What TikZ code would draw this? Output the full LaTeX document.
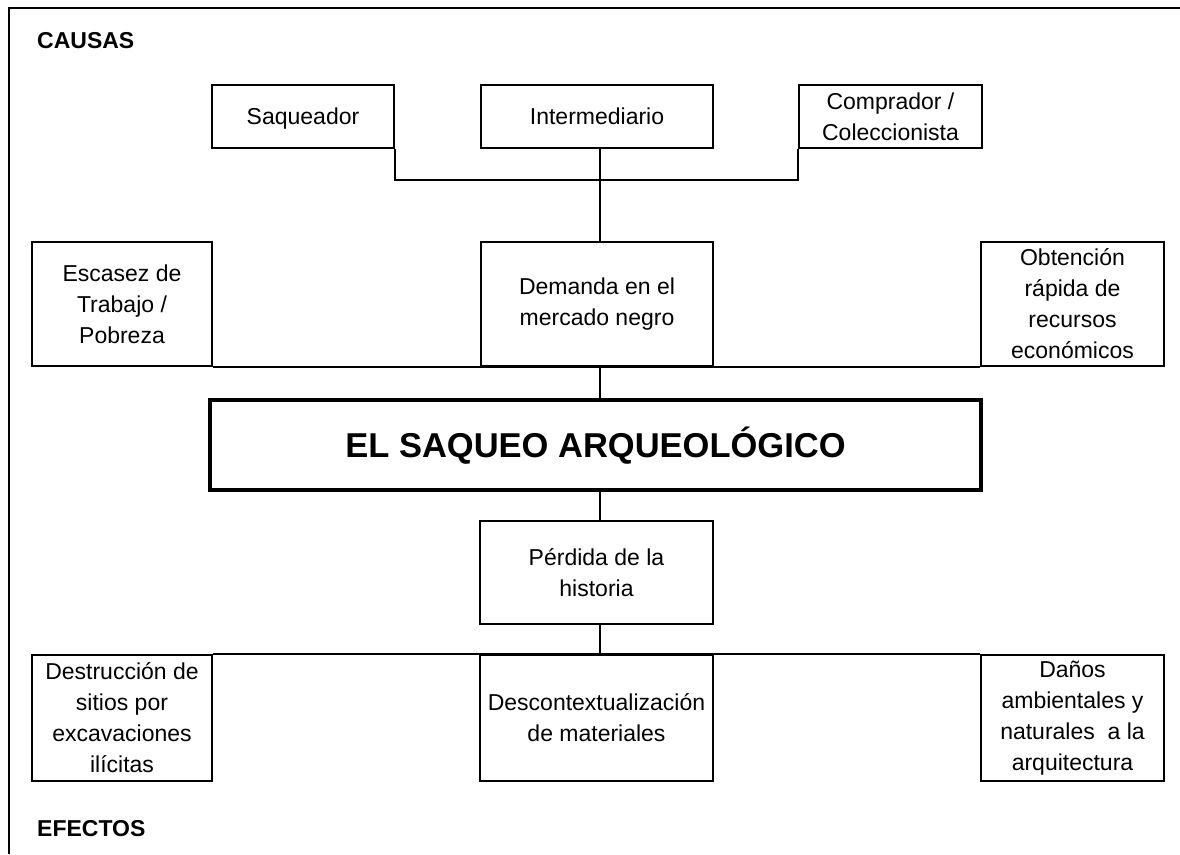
\documentclass[tikz,border=0pt]{standalone}
\usepackage{fontspec}
\setmainfont{Liberation Sans}
\begin{document}
\begin{tikzpicture}[x=1pt,y=-1pt,
  box/.style={draw, line width=1.6pt, inner sep=0pt, align=center,
              font=\fontsize{23}{31}\selectfont},
  oneline/.style={text height=16.5pt, text depth=0pt},
  mainbox/.style={draw, line width=3.5pt, inner sep=0pt, align=center,
              text height=24.7pt, text depth=0pt,
              font=\bfseries\fontsize{34.5}{40}\selectfont},
  conn/.style={line width=1.6pt},
  frameline/.style={line width=2pt},
  heading/.style={anchor=base west, inner sep=0pt, font=\bfseries\fontsize{23}{28}\selectfont}]
\useasboundingbox (0,0) rectangle (1180,854);

% frame (top and left edges)
\coordinate (fbl) at (9,854);
\coordinate (ftl) at (9,8);
\coordinate (ftr) at (1180,8);
\draw[frameline] (fbl) -- (ftl) -- (ftr);

% headings
\node[heading] (causas) at (37,48) {CAUSAS};
\node[heading] (efectos) at (37,836) {EFECTOS};

% row 1
\node[box, oneline, minimum width=182pt, minimum height=63pt] (saq) at (303,116.5) {Saqueador};
\node[box, oneline, minimum width=232pt, minimum height=63pt] (inter) at (597,116.5) {Intermediario};
\node[box, minimum width=183pt, minimum height=63pt] (comp) at (890.5,116.5) {Comprador /\\Coleccionista};

% row 2
\node[box, minimum width=180pt, minimum height=124pt] (esc) at (122,304) {Escasez de\\Trabajo /\\Pobreza};
\node[box, minimum width=232pt, minimum height=124pt] (dem) at (597,304) {Demanda en el\\mercado negro};
\node[box, minimum width=183pt, minimum height=124pt] (obt) at (1072.5,304) {Obtención\\rápida de\\recursos\\económicos};

% main box
\node[mainbox, minimum width=771pt, minimum height=90pt] (main) at (595.5,445) {EL SAQUEO ARQUEOLÓGICO};

% effects
\node[box, minimum width=233pt, minimum height=103pt] (per) at (596.5,572.5) {Pérdida de la\\historia};
\node[box, minimum width=180pt, minimum height=126pt] (des) at (122,718) {Destrucción de\\sitios por\\excavaciones\\ilícitas};
\node[box, minimum width=233pt, minimum height=126pt] (desc) at (596.5,718) {Descontextualización\\de materiales};
\node[box, minimum width=183pt, minimum height=126pt] (dan) at (1072.5,718) {Daños\\ambientales y\\naturales~~a la\\arquitectura};

% connectors
\coordinate (ax) at (600,0);
\draw[conn] (saq.south east) -- ++(0,31) -| (comp.south west);
\draw[conn] (inter.south -| ax) -- (dem.north -| ax);
\draw[conn] (esc.south east) -- (obt.south west);
\draw[conn] (dem.south -| ax) -- (main.north -| ax);
\draw[conn] (main.south -| ax) -- (per.north -| ax);
\draw[conn] (per.south -| ax) -- (desc.north -| ax);
\draw[conn] (des.north east) -- (dan.north west);
\end{tikzpicture}
\end{document}
